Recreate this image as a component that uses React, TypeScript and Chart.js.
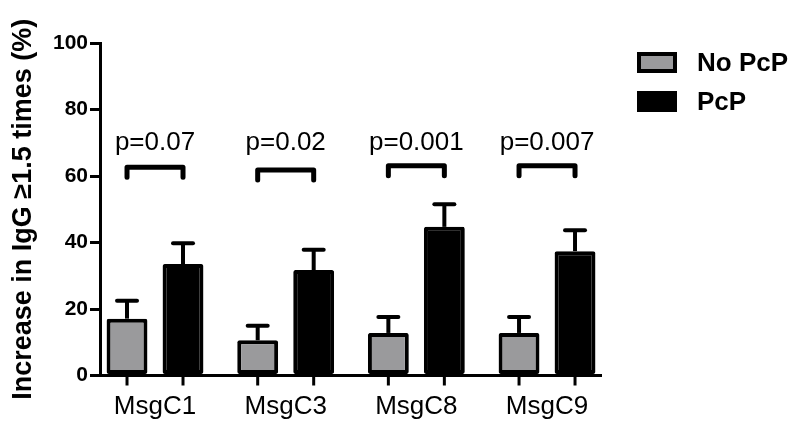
import React, { useEffect, useRef } from 'react';
import { Chart, registerables } from 'chart.js';

Chart.register(...registerables);

const categories = ['MsgC1', 'MsgC3', 'MsgC8', 'MsgC9'];
const seriesNames = ['No PcP', 'PcP'];
const noPcPValues = [17.1, 10.6, 12.8, 12.8];
const noPcPErrors = [5.4, 4.4, 4.8, 4.8];
const pcpValues = [33.5, 31.7, 44.7, 37.4];
const pcpErrors = [6.3, 6.1, 6.8, 6.3];
const pValueLabels = ['p=0.07', 'p=0.02', 'p=0.001', 'p=0.007'];
const bracketLevels = [62.6, 61.8, 63.1, 63.1];
const bracketDrop = 3;
const pLabelLevel = 67.8;
const yTicks = [0, 20, 40, 60, 80, 100];

const FONT = '"Liberation Sans", Arial, Helvetica, sans-serif';
const GRAY = '#9a9a9c';

const annotationsPlugin = {
  id: 'annotations',
  afterDatasetsDraw(chart: any) {
    const ctx = chart.ctx;
    const yScale = chart.scales.y;
    const errs = [noPcPErrors, pcpErrors];
    const vals = [noPcPValues, pcpValues];
    ctx.save();
    ctx.strokeStyle = '#000';
    ctx.fillStyle = '#000';
    chart.data.datasets.forEach((_ds: any, di: number) => {
      const meta = chart.getDatasetMeta(di);
      meta.data.forEach((bar: any, i: number) => {
        const top = yScale.getPixelForValue(vals[di][i] + errs[di][i]);
        ctx.lineWidth = 4;
        ctx.lineCap = 'butt';
        ctx.beginPath();
        ctx.moveTo(bar.x, bar.y);
        ctx.lineTo(bar.x, top);
        ctx.stroke();
        ctx.lineCap = 'round';
        ctx.beginPath();
        ctx.moveTo(bar.x - 10, top);
        ctx.lineTo(bar.x + 10, top);
        ctx.stroke();
        ctx.lineCap = 'butt';
        ctx.lineWidth = 3;
        ctx.beginPath();
        ctx.moveTo(bar.x, yScale.bottom);
        ctx.lineTo(bar.x, yScale.bottom + 10);
        ctx.stroke();
      });
    });
    const m0 = chart.getDatasetMeta(0);
    const m1 = chart.getDatasetMeta(1);
    categories.forEach((_c, i) => {
      const gx = m0.data[i].x;
      const bx = m1.data[i].x;
      const by = yScale.getPixelForValue(bracketLevels[i]);
      const bd = yScale.getPixelForValue(bracketLevels[i] - bracketDrop);
      ctx.lineWidth = 5;
      ctx.lineCap = 'round';
      ctx.lineJoin = 'round';
      ctx.beginPath();
      ctx.moveTo(gx, bd);
      ctx.lineTo(gx, by);
      ctx.lineTo(bx, by);
      ctx.lineTo(bx, bd);
      ctx.stroke();
      ctx.font = `26px ${FONT}`;
      ctx.textAlign = 'center';
      ctx.textBaseline = 'alphabetic';
      ctx.fillText(pValueLabels[i], (gx + bx) / 2, yScale.getPixelForValue(pLabelLevel));
    });
    ctx.restore();
  },
  afterDraw(chart: any) {
    const ctx = chart.ctx;
    ctx.save();
    chart.data.datasets.forEach((ds: any, i: number) => {
      const bx = 637;
      const byy = 52 + i * 39;
      const w = 40;
      const h = 21;
      ctx.fillStyle = ds.borderColor;
      ctx.fillRect(bx, byy, w, h);
      if (ds.backgroundColor !== ds.borderColor) {
        ctx.fillStyle = ds.backgroundColor;
        ctx.fillRect(bx + 4, byy + 4, w - 8, h - 8);
      }
      ctx.fillStyle = '#000';
      ctx.font = `bold 26px ${FONT}`;
      ctx.textAlign = 'left';
      ctx.textBaseline = 'middle';
      ctx.fillText(ds.label, 697, byy + h / 2 + 1);
    });
    ctx.restore();
  },
};

export default function App() {
  const canvasRef = useRef<HTMLCanvasElement | null>(null);

  useEffect(() => {
    document.body.style.margin = '0';
    const canvas = canvasRef.current;
    if (!canvas) return;
    const common = {
      borderColor: '#000',
      borderWidth: 4,
      borderSkipped: false,
      borderRadius: 2,
      categoryPercentage: 0.857,
      barPercentage: 0.73,
    };
    const chart = new Chart(canvas, {
      type: 'bar',
      data: {
        datasets: [
          {
            label: seriesNames[0],
            data: categories.map((_, i) => ({ x: i, y: noPcPValues[i] })),
            backgroundColor: GRAY,
            ...common,
          },
          {
            label: seriesNames[1],
            data: categories.map((_, i) => ({ x: i, y: pcpValues[i] })),
            backgroundColor: '#000',
            ...common,
          },
        ],
      } as any,
      options: {
        animation: false,
        responsive: true,
        maintainAspectRatio: false,
        layout: { padding: { top: 43, right: 199, bottom: 0, left: 0 } },
        plugins: {
          legend: { display: false },
          tooltip: { enabled: false },
        },
        scales: {
          x: {
            type: 'linear',
            offset: false,
            min: -0.421,
            max: 3.413,
            afterBuildTicks: (s: any) => {
              s.ticks = categories.map((_, i) => ({ value: i }));
            },
            afterFit: (s: any) => {
              s.height = 59.5;
            },
            border: { display: true, color: '#000', width: 3 },
            grid: { display: false, drawTicks: false, offset: false },
            ticks: {
              color: '#000',
              font: { family: FONT, size: 26 },
              padding: 16,
              maxRotation: 0,
              autoSkip: false,
              callback: (v: any) => categories[v as number] ?? '',
            },
          },
          y: {
            min: 0,
            max: 100,
            afterBuildTicks: (s: any) => {
              s.ticks = yTicks.map((v) => ({ value: v }));
            },
            afterFit: (s: any) => {
              s.width = 100;
            },
            border: { display: true, color: '#000', width: 3 },
            grid: { drawOnChartArea: false, drawTicks: true, tickLength: 10, lineWidth: 3, color: '#000' },
            ticks: { color: '#000', font: { family: FONT, size: 21, weight: 'bold' }, padding: 2 },
            title: {
              display: true,
              text: 'Increase in IgG ≥1.5 times (%)',
              color: '#000',
              font: { family: FONT, size: 27, weight: 'bold' },
              padding: { top: 7, bottom: 0 },
            },
          },
        },
      } as any,
      plugins: [annotationsPlugin],
    });
    return () => chart.destroy();
  }, []);

  return (
    <div style={{ position: 'fixed', left: 0, top: 0, width: 800, height: 435, background: '#fff' }}>
      <canvas ref={canvasRef} />
    </div>
  );
}
